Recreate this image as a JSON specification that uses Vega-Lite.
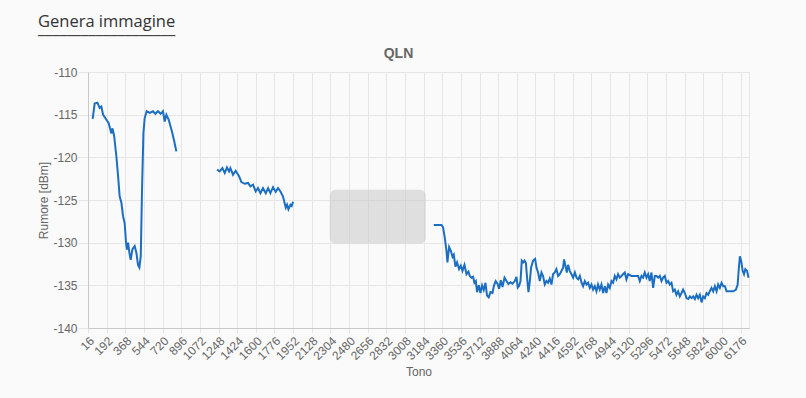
{
  "$schema": "https://vega.github.io/schema/vega-lite/v6.json",
  "width": 661,
  "height": 256,
  "autosize": {"type": "none"},
  "padding": {"left": 88, "top": 72, "right": 57, "bottom": 70},
  "background": "#fafafa",
  "title": {
    "text": "Genera immagine",
    "subtitle": "───────────────────",
    "anchor": "start",
    "frame": "group",
    "dx": -50,
    "dy": 0,
    "font": "Open Sans",
    "fontSize": 16.5,
    "fontWeight": "normal",
    "color": "#333333",
    "subtitleFont": "DejaVu Sans Mono",
    "subtitleFontSize": 12,
    "subtitleColor": "#333333",
    "subtitlePadding": 1
  },
  "config": {
    "view": {"stroke": "#e6e6e6"},
    "axis": {
      "labelFont": "Liberation Sans",
      "labelFontSize": 12,
      "labelColor": "#666666",
      "titleFont": "Liberation Sans",
      "titleFontSize": 12,
      "titleFontWeight": "normal",
      "titleColor": "#666666",
      "gridColor": "#e6e6e6",
      "domainColor": "#c8c8c8",
      "tickColor": "#e6e6e6",
      "tickSize": 5
    }
  },
  "datasets": {
    "qln": [
      {"t": 60, "v": -115.5, "s": 1},
      {"t": 79, "v": -113.7, "s": 1},
      {"t": 105, "v": -113.6, "s": 1},
      {"t": 126, "v": -114.2, "s": 1},
      {"t": 142, "v": -114.05, "s": 1},
      {"t": 158, "v": -115.0, "s": 1},
      {"t": 190, "v": -115.6, "s": 1},
      {"t": 211, "v": -116.0, "s": 1},
      {"t": 237, "v": -117.2, "s": 1},
      {"t": 246, "v": -116.6, "s": 1},
      {"t": 262, "v": -117.4, "s": 1},
      {"t": 284, "v": -119.9, "s": 1},
      {"t": 300, "v": -122.2, "s": 1},
      {"t": 315, "v": -124.6, "s": 1},
      {"t": 331, "v": -125.3, "s": 1},
      {"t": 347, "v": -126.9, "s": 1},
      {"t": 362, "v": -127.7, "s": 1},
      {"t": 375, "v": -130.0, "s": 1},
      {"t": 384, "v": -130.8, "s": 1},
      {"t": 394, "v": -130.0, "s": 1},
      {"t": 407, "v": -131.2, "s": 1},
      {"t": 419, "v": -132.0, "s": 1},
      {"t": 435, "v": -130.8, "s": 1},
      {"t": 457, "v": -130.4, "s": 1},
      {"t": 473, "v": -131.2, "s": 1},
      {"t": 488, "v": -132.6, "s": 1},
      {"t": 501, "v": -132.9, "s": 1},
      {"t": 514, "v": -131.6, "s": 1},
      {"t": 526, "v": -123.8, "s": 1},
      {"t": 539, "v": -117.2, "s": 1},
      {"t": 551, "v": -115.4, "s": 1},
      {"t": 570, "v": -114.6, "s": 1},
      {"t": 599, "v": -114.8, "s": 1},
      {"t": 630, "v": -114.6, "s": 1},
      {"t": 652, "v": -114.9, "s": 1},
      {"t": 677, "v": -114.6, "s": 1},
      {"t": 702, "v": -114.9, "s": 1},
      {"t": 724, "v": -114.6, "s": 1},
      {"t": 740, "v": -115.8, "s": 1},
      {"t": 756, "v": -115.0, "s": 1},
      {"t": 778, "v": -115.6, "s": 1},
      {"t": 809, "v": -117.0, "s": 1},
      {"t": 828, "v": -118.0, "s": 1},
      {"t": 850, "v": -119.3, "s": 1},
      {"t": 1234, "v": -121.45, "s": 2},
      {"t": 1259, "v": -121.65, "s": 2},
      {"t": 1285, "v": -121.26, "s": 2},
      {"t": 1307, "v": -121.84, "s": 2},
      {"t": 1328, "v": -121.18, "s": 2},
      {"t": 1347, "v": -121.65, "s": 2},
      {"t": 1360, "v": -121.26, "s": 2},
      {"t": 1385, "v": -122.04, "s": 2},
      {"t": 1410, "v": -121.57, "s": 2},
      {"t": 1442, "v": -122.2, "s": 2},
      {"t": 1464, "v": -122.9, "s": 2},
      {"t": 1496, "v": -123.1, "s": 2},
      {"t": 1527, "v": -123.0, "s": 2},
      {"t": 1549, "v": -123.4, "s": 2},
      {"t": 1574, "v": -123.2, "s": 2},
      {"t": 1599, "v": -124.0, "s": 2},
      {"t": 1621, "v": -123.6, "s": 2},
      {"t": 1644, "v": -124.2, "s": 2},
      {"t": 1668, "v": -123.6, "s": 2},
      {"t": 1694, "v": -124.2, "s": 2},
      {"t": 1716, "v": -123.6, "s": 2},
      {"t": 1738, "v": -124.2, "s": 2},
      {"t": 1763, "v": -123.5, "s": 2},
      {"t": 1788, "v": -124.05, "s": 2},
      {"t": 1810, "v": -123.6, "s": 2},
      {"t": 1833, "v": -124.0, "s": 2},
      {"t": 1857, "v": -124.6, "s": 2},
      {"t": 1883, "v": -125.9, "s": 2},
      {"t": 1895, "v": -125.55, "s": 2},
      {"t": 1908, "v": -126.1, "s": 2},
      {"t": 1927, "v": -125.55, "s": 2},
      {"t": 1939, "v": -125.7, "s": 2},
      {"t": 1952, "v": -125.2, "s": 2},
      {"t": 3280, "v": -127.92, "s": 3},
      {"t": 3353, "v": -127.92, "s": 3},
      {"t": 3368, "v": -128.2, "s": 3},
      {"t": 3384, "v": -129.4, "s": 3},
      {"t": 3400, "v": -130.95, "s": 3},
      {"t": 3409, "v": -132.3, "s": 3},
      {"t": 3425, "v": -130.5, "s": 3},
      {"t": 3441, "v": -130.95, "s": 3},
      {"t": 3457, "v": -131.65, "s": 3},
      {"t": 3469, "v": -131.4, "s": 3},
      {"t": 3485, "v": -132.8, "s": 3},
      {"t": 3500, "v": -132.3, "s": 3},
      {"t": 3519, "v": -133.1, "s": 3},
      {"t": 3535, "v": -132.7, "s": 3},
      {"t": 3551, "v": -133.3, "s": 3},
      {"t": 3570, "v": -132.6, "s": 3},
      {"t": 3589, "v": -133.7, "s": 3},
      {"t": 3608, "v": -133.4, "s": 3},
      {"t": 3620, "v": -133.9, "s": 3},
      {"t": 3636, "v": -134.1, "s": 3},
      {"t": 3651, "v": -134.0, "s": 3},
      {"t": 3664, "v": -134.7, "s": 3},
      {"t": 3677, "v": -134.5, "s": 3},
      {"t": 3689, "v": -135.8, "s": 3},
      {"t": 3705, "v": -135.0, "s": 3},
      {"t": 3721, "v": -135.9, "s": 3},
      {"t": 3736, "v": -135.0, "s": 3},
      {"t": 3752, "v": -135.55, "s": 3},
      {"t": 3768, "v": -134.7, "s": 3},
      {"t": 3783, "v": -136.2, "s": 3},
      {"t": 3799, "v": -136.4, "s": 3},
      {"t": 3815, "v": -135.8, "s": 3},
      {"t": 3834, "v": -135.9, "s": 3},
      {"t": 3849, "v": -135.0, "s": 3},
      {"t": 3865, "v": -134.5, "s": 3},
      {"t": 3882, "v": -134.8, "s": 3},
      {"t": 3897, "v": -135.4, "s": 3},
      {"t": 3913, "v": -134.4, "s": 3},
      {"t": 3929, "v": -135.2, "s": 3},
      {"t": 3948, "v": -134.1, "s": 3},
      {"t": 3967, "v": -134.5, "s": 3},
      {"t": 3985, "v": -134.85, "s": 3},
      {"t": 4004, "v": -134.65, "s": 3},
      {"t": 4023, "v": -134.8, "s": 3},
      {"t": 4045, "v": -134.5, "s": 3},
      {"t": 4061, "v": -134.0, "s": 3},
      {"t": 4073, "v": -135.25, "s": 3},
      {"t": 4086, "v": -135.05, "s": 3},
      {"t": 4099, "v": -134.5, "s": 3},
      {"t": 4111, "v": -132.1, "s": 3},
      {"t": 4124, "v": -132.3, "s": 3},
      {"t": 4137, "v": -132.1, "s": 3},
      {"t": 4150, "v": -132.4, "s": 3},
      {"t": 4161, "v": -134.1, "s": 3},
      {"t": 4174, "v": -135.8, "s": 3},
      {"t": 4187, "v": -134.5, "s": 3},
      {"t": 4199, "v": -132.9, "s": 3},
      {"t": 4218, "v": -132.1, "s": 3},
      {"t": 4237, "v": -131.9, "s": 3},
      {"t": 4250, "v": -132.95, "s": 3},
      {"t": 4265, "v": -133.5, "s": 3},
      {"t": 4281, "v": -134.5, "s": 3},
      {"t": 4297, "v": -133.5, "s": 3},
      {"t": 4312, "v": -133.9, "s": 3},
      {"t": 4328, "v": -134.9, "s": 3},
      {"t": 4344, "v": -134.5, "s": 3},
      {"t": 4359, "v": -134.7, "s": 3},
      {"t": 4375, "v": -134.2, "s": 3},
      {"t": 4391, "v": -134.9, "s": 3},
      {"t": 4406, "v": -133.7, "s": 3},
      {"t": 4422, "v": -133.5, "s": 3},
      {"t": 4438, "v": -133.1, "s": 3},
      {"t": 4454, "v": -133.9, "s": 3},
      {"t": 4470, "v": -133.7, "s": 3},
      {"t": 4486, "v": -133.3, "s": 3},
      {"t": 4501, "v": -132.95, "s": 3},
      {"t": 4510, "v": -131.97, "s": 3},
      {"t": 4524, "v": -132.75, "s": 3},
      {"t": 4536, "v": -133.5, "s": 3},
      {"t": 4548, "v": -132.6, "s": 3},
      {"t": 4564, "v": -133.3, "s": 3},
      {"t": 4580, "v": -133.7, "s": 3},
      {"t": 4596, "v": -134.1, "s": 3},
      {"t": 4612, "v": -133.5, "s": 3},
      {"t": 4628, "v": -134.1, "s": 3},
      {"t": 4643, "v": -134.3, "s": 3},
      {"t": 4659, "v": -133.9, "s": 3},
      {"t": 4675, "v": -134.7, "s": 3},
      {"t": 4690, "v": -135.1, "s": 3},
      {"t": 4706, "v": -134.5, "s": 3},
      {"t": 4722, "v": -134.9, "s": 3},
      {"t": 4737, "v": -134.7, "s": 3},
      {"t": 4753, "v": -135.3, "s": 3},
      {"t": 4769, "v": -134.9, "s": 3},
      {"t": 4784, "v": -135.5, "s": 3},
      {"t": 4800, "v": -135.1, "s": 3},
      {"t": 4816, "v": -135.7, "s": 3},
      {"t": 4831, "v": -134.9, "s": 3},
      {"t": 4847, "v": -135.5, "s": 3},
      {"t": 4863, "v": -134.9, "s": 3},
      {"t": 4879, "v": -135.9, "s": 3},
      {"t": 4895, "v": -135.1, "s": 3},
      {"t": 4910, "v": -135.9, "s": 3},
      {"t": 4926, "v": -134.9, "s": 3},
      {"t": 4942, "v": -135.3, "s": 3},
      {"t": 4958, "v": -134.5, "s": 3},
      {"t": 4973, "v": -134.7, "s": 3},
      {"t": 4989, "v": -133.9, "s": 3},
      {"t": 5005, "v": -134.3, "s": 3},
      {"t": 5020, "v": -133.7, "s": 3},
      {"t": 5036, "v": -134.1, "s": 3},
      {"t": 5052, "v": -133.9, "s": 3},
      {"t": 5067, "v": -133.7, "s": 3},
      {"t": 5083, "v": -133.5, "s": 3},
      {"t": 5099, "v": -134.3, "s": 3},
      {"t": 5115, "v": -133.7, "s": 3},
      {"t": 5147, "v": -133.9, "s": 3},
      {"t": 5178, "v": -133.9, "s": 3},
      {"t": 5209, "v": -133.9, "s": 3},
      {"t": 5225, "v": -134.5, "s": 3},
      {"t": 5241, "v": -133.9, "s": 3},
      {"t": 5256, "v": -134.1, "s": 3},
      {"t": 5272, "v": -133.5, "s": 3},
      {"t": 5288, "v": -134.1, "s": 3},
      {"t": 5304, "v": -133.7, "s": 3},
      {"t": 5319, "v": -134.5, "s": 3},
      {"t": 5335, "v": -133.5, "s": 3},
      {"t": 5351, "v": -135.3, "s": 3},
      {"t": 5367, "v": -133.9, "s": 3},
      {"t": 5383, "v": -133.9, "s": 3},
      {"t": 5398, "v": -134.1, "s": 3},
      {"t": 5414, "v": -133.9, "s": 3},
      {"t": 5430, "v": -134.5, "s": 3},
      {"t": 5445, "v": -134.1, "s": 3},
      {"t": 5461, "v": -133.9, "s": 3},
      {"t": 5477, "v": -134.7, "s": 3},
      {"t": 5493, "v": -134.5, "s": 3},
      {"t": 5508, "v": -134.9, "s": 3},
      {"t": 5524, "v": -134.7, "s": 3},
      {"t": 5540, "v": -135.7, "s": 3},
      {"t": 5556, "v": -135.5, "s": 3},
      {"t": 5571, "v": -136.1, "s": 3},
      {"t": 5587, "v": -135.7, "s": 3},
      {"t": 5603, "v": -136.3, "s": 3},
      {"t": 5619, "v": -135.9, "s": 3},
      {"t": 5634, "v": -135.5, "s": 3},
      {"t": 5650, "v": -135.9, "s": 3},
      {"t": 5666, "v": -136.5, "s": 3},
      {"t": 5682, "v": -136.6, "s": 3},
      {"t": 5698, "v": -136.3, "s": 3},
      {"t": 5713, "v": -136.5, "s": 3},
      {"t": 5729, "v": -136.3, "s": 3},
      {"t": 5745, "v": -136.6, "s": 3},
      {"t": 5761, "v": -136.1, "s": 3},
      {"t": 5776, "v": -136.5, "s": 3},
      {"t": 5792, "v": -136.1, "s": 3},
      {"t": 5808, "v": -137.0, "s": 3},
      {"t": 5823, "v": -136.3, "s": 3},
      {"t": 5839, "v": -136.5, "s": 3},
      {"t": 5855, "v": -135.9, "s": 3},
      {"t": 5871, "v": -136.1, "s": 3},
      {"t": 5886, "v": -135.7, "s": 3},
      {"t": 5902, "v": -135.3, "s": 3},
      {"t": 5918, "v": -135.7, "s": 3},
      {"t": 5934, "v": -135.1, "s": 3},
      {"t": 5950, "v": -135.7, "s": 3},
      {"t": 5965, "v": -134.9, "s": 3},
      {"t": 5981, "v": -135.3, "s": 3},
      {"t": 5997, "v": -134.7, "s": 3},
      {"t": 6013, "v": -135.1, "s": 3},
      {"t": 6029, "v": -135.1, "s": 3},
      {"t": 6044, "v": -135.7, "s": 3},
      {"t": 6076, "v": -135.7, "s": 3},
      {"t": 6107, "v": -135.7, "s": 3},
      {"t": 6133, "v": -135.5, "s": 3},
      {"t": 6149, "v": -134.9, "s": 3},
      {"t": 6158, "v": -133.3, "s": 3},
      {"t": 6170, "v": -131.6, "s": 3},
      {"t": 6183, "v": -132.2, "s": 3},
      {"t": 6196, "v": -133.3, "s": 3},
      {"t": 6209, "v": -133.7, "s": 3},
      {"t": 6221, "v": -133.1, "s": 3},
      {"t": 6237, "v": -133.3, "s": 3},
      {"t": 6252, "v": -134.1, "s": 3}
    ],
    "ghost": [
      {"x1": 2298, "x2": 3205, "y1": -123.8, "y2": -130.1}
    ]
  },
  "layer": [
    {
      "data": {"name": "ghost"},
      "mark": {"type": "rect", "fill": "#c4c4c4", "opacity": 0.5, "cornerRadius": 6},
      "encoding": {
        "x": {
          "field": "x1",
          "type": "quantitative",
          "scale": {"domain": [16, 6256], "nice": false, "zero": false},
          "axis": {
            "orient": "top",
            "title": "QLN",
            "labels": false,
            "ticks": false,
            "domain": false,
            "grid": false,
            "titleFontWeight": "bold",
            "titleFontSize": 14,
            "titleColor": "#666666",
            "titlePadding": 12,
            "titleX": 310
          }
        },
        "x2": {"field": "x2"},
        "y": {
          "field": "y1",
          "type": "quantitative",
          "scale": {"domain": [-140, -110], "nice": false, "zero": false},
          "axis": null
        },
        "y2": {"field": "y2"}
      }
    },
    {
      "data": {"name": "qln"},
      "mark": {"type": "line", "color": "#1b6ec2", "strokeWidth": 2},
      "encoding": {
        "x": {
          "field": "t",
          "type": "quantitative",
          "scale": {"domain": [16, 6256], "nice": false, "zero": false},
          "axis": {
            "orient": "bottom",
            "title": "Tono",
            "format": "d",
            "grid": true,
            "values": [16, 192, 368, 544, 720, 896, 1072, 1248, 1424, 1600, 1776, 1952, 2128, 2304, 2480, 2656, 2832, 3008, 3184, 3360, 3536, 3712, 3888, 4064, 4240, 4416, 4592, 4768, 4944, 5120, 5296, 5472, 5648, 5824, 6000, 6176],
            "labelAngle": -45,
            "labelOverlap": false,
            "labelPadding": 2,
            "titlePadding": 5
          }
        },
        "y": {
          "field": "v",
          "type": "quantitative",
          "scale": {"domain": [-140, -110], "nice": false, "zero": false},
          "axis": {
            "title": "Rumore [dBm]",
            "grid": true,
            "values": [-140, -135, -130, -125, -120, -115, -110],
            "labelExpr": "toString(datum.value)",
            "tickSize": 10,
            "labelPadding": 1,
            "titlePadding": 2
          }
        },
        "detail": {"field": "s", "type": "nominal"}
      }
    }
  ],
  "resolve": {"axis": {"x": "independent", "y": "independent"}}
}
